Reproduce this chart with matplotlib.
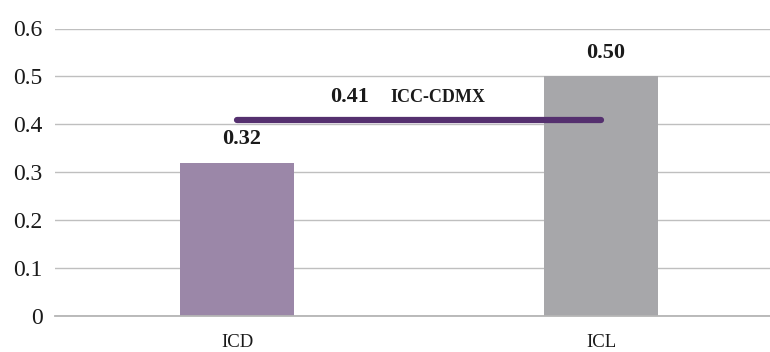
import matplotlib
matplotlib.use("Agg")
import matplotlib.pyplot as plt

categories = ["ICD", "ICL"]
values = [0.32, 0.50]
bar_colors = ["#9B87A8", "#A7A7AA"]
ref_value = 0.41
ref_label = "ICC-CDMX"
yticks = [0, 0.1, 0.2, 0.3, 0.4, 0.5, 0.6]
ytick_labels = ["0", "0.1", "0.2", "0.3", "0.4", "0.5", "0.6"]

plt.rcParams['font.family'] = ['Liberation Serif', 'DejaVu Serif']

fig = plt.figure(figsize=(7.7, 3.52), dpi=100)
ax = fig.add_axes([55/770, 36/352, 1 - 55/770, 287.5/352])

x = list(range(len(categories)))
ax.bar(x, values, width=0.313, color=bar_colors, zorder=2)

ax.set_xlim(-0.5, 1.464)
ax.set_ylim(0, 0.6)
ax.set_yticks(yticks)
ax.set_yticklabels(ytick_labels, fontsize=17, color="#1a1a1a")
ax.tick_params(axis='y', length=0, pad=9)
ax.set_xticks(x)
ax.set_xticklabels(categories, fontsize=13.5, color="#1a1a1a")
ax.tick_params(axis='x', length=0, pad=13)

ax.grid(axis='y', color="#BFBFBF", linewidth=1.0, zorder=0)
ax.set_axisbelow(True)
for s in ["top", "right", "left"]:
    ax.spines[s].set_visible(False)
ax.spines["bottom"].set_color("#B5B5B5")
ax.spines["bottom"].set_linewidth(1.3)

for xi, v in zip(x, values):
    ax.annotate(f"{v:.2f}", xy=(xi, v), xytext=(3.5, 17), textcoords="offset points",
                ha="center", va="center", fontsize=16, fontweight="bold", color="#1a1a1a")

ax.plot([0, 1], [ref_value, ref_value], color="#55306F", linewidth=4.5,
        solid_capstyle="round", zorder=3)
ax.annotate(f"{ref_value:.2f}", xy=(0.31, ref_value), xytext=(0, 16), textcoords="offset points",
            ha="center", va="center", fontsize=16, fontweight="bold", color="#1a1a1a")
ax.annotate(ref_label, xy=(0.552, ref_value), xytext=(0, 16), textcoords="offset points",
            ha="center", va="center", fontsize=13, fontweight="bold", color="#1a1a1a")

fig.savefig("out.png", dpi=100)
